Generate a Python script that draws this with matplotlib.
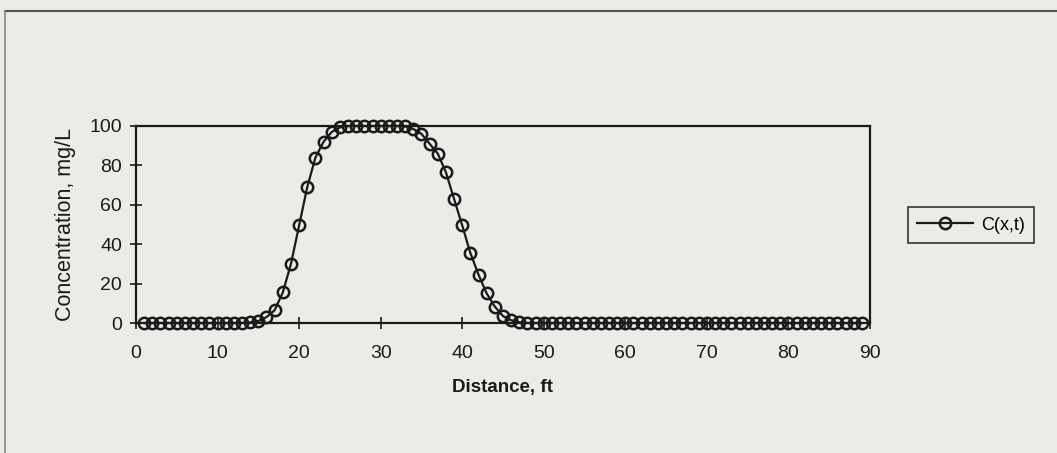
import numpy as np
import matplotlib.pyplot as plt
from matplotlib.lines import Line2D

plt.rcParams["font.family"] = ["Liberation Sans", "DejaVu Sans"]

# distance along the profile, ft (one point per foot)
distance = np.arange(1, 90)
# concentration, mg/L
concentration = [
    0, 0, 0, 0, 0, 0, 0, 0, 0, 0,            # 1-10
    0, 0, 0, 0.3, 1.0, 3.0, 6.5, 15.5, 30, 49.5,   # 11-20
    69, 84, 92, 97, 99.3, 100, 100, 100, 100, 100,  # 21-30
    100, 100, 99.8, 98.5, 96, 91, 86, 76.5, 63, 49.5,  # 31-40
    35.5, 24.5, 15, 8.3, 3.5, 1.4, 0.4, 0, 0, 0,   # 41-50
    0, 0, 0, 0, 0, 0, 0, 0, 0, 0,            # 51-60
    0, 0, 0, 0, 0, 0, 0, 0, 0, 0,            # 61-70
    0, 0, 0, 0, 0, 0, 0, 0, 0, 0,            # 71-80
    0, 0, 0, 0, 0, 0, 0, 0, 0,               # 81-89
]
x_ticks = [0, 10, 20, 30, 40, 50, 60, 70, 80, 90]
y_ticks = [0, 20, 40, 60, 80, 100]

paper = "#ecebe8"
ink = "#1a1a1a"

W, H = 1057, 453
fig = plt.figure(figsize=(W / 100, H / 100), dpi=100, facecolor=paper)
ax = fig.add_axes([136 / W, 1 - 323 / H, 734 / W, 197 / H], facecolor=paper)

ax.plot(distance, concentration, color=ink, lw=1.6, marker="o", ms=8.2,
        mfc="none", mec=ink, mew=1.8, clip_on=False, label="C(x,t)")

ax.set_xlim(0, 90)
ax.set_ylim(0, 100)
ax.set_xticks(x_ticks)
ax.set_yticks(y_ticks)
ax.tick_params(direction="inout", length=8, width=1.2, colors=ink, labelsize=14)
ax.tick_params(axis="x", pad=12)
ax.tick_params(axis="y", pad=6)
for s in ax.spines.values():
    s.set_color(ink)
    s.set_linewidth(1.6)

ax.set_xlabel("Distance, ft", fontsize=13.5, fontweight="bold", color=ink, labelpad=12)
ax.set_ylabel("Concentration, mg/L", fontsize=15.5, color=ink, labelpad=10)

leg = fig.legend(loc="center", bbox_to_anchor=(971 / W, 1 - 225 / H),
                 fontsize=13, frameon=True, fancybox=False, handlelength=3.1,
                 borderpad=0.5, handletextpad=0.4, borderaxespad=0)
leg.get_frame().set_edgecolor(ink)
leg.get_frame().set_linewidth(1.3)
leg.get_frame().set_facecolor(paper)

# outer chart-area frame visible at top and left of the scan
fig.add_artist(Line2D([5 / W, 1], [1 - 11 / H, 1 - 11 / H], color="#555555", lw=1.5,
                      transform=fig.transFigure))
fig.add_artist(Line2D([5 / W, 5 / W], [1 - 11 / H, 0], color="#888888", lw=1.2,
                      transform=fig.transFigure))

fig.savefig("out.png", dpi=100, facecolor=paper)
